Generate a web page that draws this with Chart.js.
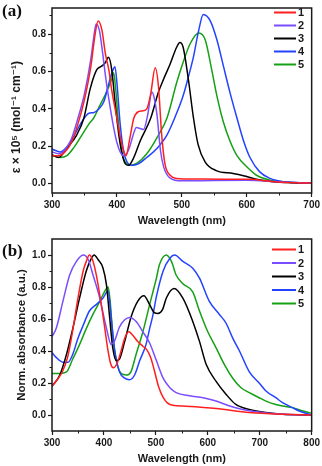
<!DOCTYPE html>
<html><head><meta charset="utf-8">
<script src="https://cdn.jsdelivr.net/npm/chart.js@4"></script>
<style>
html,body{margin:0;padding:0;background:#fff;width:322px;height:466px;overflow:hidden}
#wrapA{position:absolute;left:0;top:0;width:322px;height:230px}
#wrapB{position:absolute;left:0;top:230px;width:322px;height:236px}
.plabel{position:absolute;font:bold 17px "Liberation Serif","DejaVu Serif",serif;line-height:17px;color:#111}
</style></head><body>
<div id="wrapA"><canvas id="cA" width="322" height="230"></canvas></div>
<div id="wrapB"><canvas id="cB" width="322" height="236"></canvas></div>
<div class="plabel" style="left:2px;top:2px">(a)</div>
<div class="plabel" style="left:2px;top:242px">(b)</div>
<script>
// ---------- data: panel (a) molar absorptivity (x 10^5) ----------
const seriesLabels = ['1','2','3','4','5'];
const seriesColors = ['#ff1f1f','#7a4dff','#000000','#2443ff','#16a016'];

const xTicksA = [300,400,500,600,700];
const yTicksA = [0,0.2,0.4,0.6,0.8];
const xMinorA = [350,450,550,650];
const yMinorA = [0.1,0.3,0.5,0.7,0.9];

const wlA1 = [300,310,320,330,340,350,360,366,371,377,382,388,392,400,405,410,414,420,426,433,440,446,452,459,464,469,474,482,492,520,560,605,630,656,680,700];
const epsA1 = [0.15,0.15,0.17,0.22,0.32,0.45,0.63,0.79,0.87,0.82,0.70,0.60,0.50,0.35,0.25,0.18,0.15,0.245,0.35,0.385,0.39,0.40,0.48,0.62,0.52,0.26,0.106,0.045,0.028,0.025,0.024,0.024,0.015,0.007,0.004,0.003];
const wlA2 = [300,310,320,330,340,350,360,365,368,373,378,383,390,395,400,405,410,415,420,425,430,436,441,447,454,458,462,467,472,482,500,550,600,650,700];
const epsA2 = [0.17,0.16,0.18,0.24,0.35,0.48,0.67,0.80,0.855,0.82,0.70,0.56,0.40,0.30,0.22,0.17,0.15,0.16,0.20,0.26,0.30,0.295,0.29,0.36,0.49,0.45,0.36,0.18,0.09,0.03,0.015,0.017,0.018,0.01,0.003];
const wlA3 = [300,310,323,338,349,359,369,377,382,387,392,397,403,408,413,418,426,436,452,464,472,482,492,497,502,510,518,525,536,553,579,595,615,641,670,700];
const epsA3 = [0.155,0.14,0.19,0.26,0.35,0.51,0.61,0.63,0.647,0.676,0.61,0.44,0.26,0.16,0.106,0.098,0.14,0.23,0.35,0.49,0.56,0.64,0.73,0.755,0.73,0.56,0.35,0.21,0.115,0.07,0.054,0.042,0.024,0.01,0.005,0.003];
const wlA4 = [300,313,328,344,357,364,372,380,387,393,397,400,405,410,415,423,433,446,462,477,490,502,510,518,526,533,544,554,564,574,585,595,605,620,636,656,680,700];
const epsA4 = [0.185,0.17,0.22,0.32,0.377,0.38,0.40,0.44,0.53,0.60,0.626,0.54,0.32,0.18,0.12,0.098,0.106,0.14,0.19,0.26,0.36,0.47,0.57,0.68,0.82,0.905,0.87,0.77,0.63,0.49,0.35,0.23,0.14,0.063,0.028,0.01,0.005,0.003];
const wlA5 = [300,313,323,333,346,357,364,374,384,392,395,398,403,408,413,420,431,446,464,477,492,502,513,526,536,546,554,564,574,585,600,615,636,656,680,700];
const epsA5 = [0.15,0.14,0.15,0.19,0.26,0.32,0.35,0.42,0.49,0.56,0.594,0.51,0.30,0.16,0.115,0.098,0.11,0.16,0.26,0.35,0.54,0.65,0.75,0.806,0.77,0.61,0.47,0.33,0.23,0.15,0.09,0.045,0.019,0.01,0.005,0.003];

// ---------- data: panel (b) normalized absorbance ----------
const xTicksB = [300,400,500,600,700,800];
const yTicksB = [0,0.2,0.4,0.6,0.8,1.0];
const xMinorB = [350,450,550,650,750];
const yMinorB = [0.1,0.3,0.5,0.7,0.9];

const wlB1 = [300,310,320,330,340,350,360,366,372,378,385,392,400,407,413,418,425,433,440,448,455,465,475,482,490,497,505,514,527,552,616,680,744,800];
const absB1 = [0.18,0.22,0.27,0.36,0.53,0.73,0.90,0.96,1.0,0.97,0.88,0.75,0.58,0.42,0.32,0.295,0.32,0.40,0.48,0.52,0.50,0.46,0.43,0.41,0.36,0.28,0.18,0.11,0.066,0.056,0.041,0.015,0.004,0.0];
const wlB2 = [300,308,321,334,347,360,370,379,392,405,414,420,430,440,449,462,475,488,501,514,527,539,565,591,616,642,667,693,744,800];
const absB2 = [0.49,0.54,0.71,0.875,0.96,1.0,0.97,0.875,0.73,0.54,0.44,0.46,0.55,0.595,0.61,0.585,0.52,0.45,0.34,0.23,0.17,0.14,0.12,0.108,0.087,0.056,0.035,0.02,0.004,0.0];
const wlB3 = [300,315,328,340,353,366,376,381,389,398,405,411,417,424,430,440,452,465,477,488,497,504,513,520,535,552,571,584,597,616,635,654,680,712,744,800];
const absB3 = [0.18,0.25,0.38,0.54,0.73,0.90,0.98,1.0,0.97,0.92,0.81,0.61,0.42,0.34,0.35,0.46,0.61,0.71,0.745,0.69,0.64,0.635,0.66,0.73,0.79,0.73,0.585,0.46,0.315,0.21,0.13,0.066,0.035,0.015,0.004,0.0];
const wlB4 = [300,308,321,331,340,350,360,372,385,398,408,414,421,430,440,449,459,469,481,488,494,501,514,527,536,552,571,584,603,622,635,648,661,680,699,712,731,744,763,776,800];
const absB4 = [0.39,0.36,0.33,0.33,0.38,0.48,0.56,0.65,0.69,0.73,0.775,0.61,0.40,0.27,0.23,0.22,0.25,0.34,0.44,0.54,0.62,0.74,0.90,0.98,1.0,0.96,0.917,0.855,0.71,0.63,0.575,0.48,0.40,0.27,0.20,0.15,0.108,0.077,0.046,0.025,0.0];
const wlB5 = [300,315,328,340,353,366,379,392,401,408,412,417,424,433,443,452,462,475,488,501,507,520,530,539,552,571,584,600,616,632,648,664,680,699,712,731,744,763,783,795,800];
const absB5 = [0.26,0.26,0.27,0.35,0.44,0.54,0.63,0.71,0.77,0.80,0.71,0.50,0.34,0.26,0.25,0.27,0.38,0.52,0.69,0.855,0.94,1.0,0.96,0.875,0.82,0.77,0.65,0.52,0.42,0.315,0.23,0.17,0.14,0.108,0.087,0.066,0.056,0.046,0.025,0.015,0.01];

const FONT = '"Liberation Sans", Arial, "DejaVu Sans", sans-serif';
const INK = '#1a1a1a';

function zip(xs, ys){ return xs.map((x,i)=>({x:x, y:ys[i]})); }
function makeDatasets(wls, vals){
  return wls.map((wl,i)=>({
    label: seriesLabels[i],
    data: zip(wl, vals[i]),
    borderColor: seriesColors[i],
    backgroundColor: seriesColors[i],
    borderWidth: 1.5,
    pointRadius: 0,
    fill: false,
    cubicInterpolationMode: 'monotone'
  }));
}

const framePlugin = {
  id: 'frame',
  afterDraw(chart, args, o){
    const {ctx, chartArea:a} = chart;
    const xs = chart.scales.x, ys = chart.scales.y;
    ctx.save();
    ctx.strokeStyle = INK;
    ctx.lineWidth = 1.5;
    ctx.strokeRect(a.left, a.top, a.right - a.left, a.bottom - a.top);
    ctx.lineWidth = 1;
    o.xMinor.forEach(v=>{
      const px = Math.round(xs.getPixelForValue(v)) + 0.5;
      ctx.beginPath(); ctx.moveTo(px, a.bottom); ctx.lineTo(px, a.bottom + 2.5); ctx.stroke();
    });
    o.yMinor.forEach(v=>{
      const py = Math.round(ys.getPixelForValue(v)) + 0.5;
      ctx.beginPath(); ctx.moveTo(a.left, py); ctx.lineTo(a.left - 2.5, py); ctx.stroke();
    });
    // legend
    ctx.font = 'bold 11px ' + FONT;
    ctx.textBaseline = 'middle';
    ctx.textAlign = 'left';
    chart.data.datasets.forEach((ds,i)=>{
      const yy = o.legY + i*o.legGap;
      ctx.strokeStyle = ds.borderColor; ctx.lineWidth = 2;
      ctx.beginPath(); ctx.moveTo(o.legX1, yy); ctx.lineTo(o.legX2, yy); ctx.stroke();
      ctx.fillStyle = INK;
      ctx.fillText(ds.label, o.legX2 + 2, yy + 0.5);
    });
    ctx.restore();
  }
};

function makeChart(id, cfg){
  return new Chart(document.getElementById(id), {
    type: 'line',
    data: { datasets: makeDatasets(cfg.wls, cfg.vals) },
    plugins: [framePlugin],
    options: {
      responsive: false, animation: false, events: [],
      layout: { padding: { left: 0, right: 10, top: cfg.padTop, bottom: 0 } },
      plugins: {
        legend: { display: false }, tooltip: { enabled: false },
        frame: { xMinor: cfg.xMinor, yMinor: cfg.yMinor, legX1: cfg.legX1, legX2: 296, legY: cfg.legY, legGap: cfg.legGap }
      },
      scales: {
        x: {
          type: 'linear', min: cfg.xMin, max: cfg.xMax,
          afterBuildTicks: s => { s.ticks = cfg.xTicks.map(v=>({value:v})); },
          afterFit: s => { s.height = cfg.xHeight; },
          grid: { display: true, drawOnChartArea: false, drawTicks: true, tickLength: 4, tickColor: INK, tickWidth: 1.2 },
          border: { display: false },
          ticks: { font: { family: FONT, size: 10, weight: 'bold' }, color: INK, padding: 2, maxRotation: 0, autoSkip: false, callback: v => String(v) },
          title: { display: true, text: 'Wavelength (nm)', font: { family: FONT, size: 11, weight: 'bold' }, color: INK, padding: { top: 0, bottom: cfg.xTitlePad } }
        },
        y: {
          type: 'linear', min: cfg.yMin, max: cfg.yMax,
          afterBuildTicks: s => { s.ticks = cfg.yTicks.map(v=>({value:v})); },
          afterFit: s => { s.width = 52; },
          grid: { display: true, drawOnChartArea: false, drawTicks: true, tickLength: 4, tickColor: INK, tickWidth: 1.2 },
          border: { display: false },
          ticks: { font: { family: FONT, size: 10, weight: 'bold' }, color: INK, padding: 2, autoSkip: false, callback: v => Number(v).toFixed(1) },
          title: { display: true, text: cfg.yTitle, font: { family: FONT, size: cfg.yTitleSize, weight: 'bold' }, color: INK, padding: { top: cfg.yTitlePad, bottom: 0 } }
        }
      }
    }
  });
}

makeChart('cA', {
  wls: [wlA1,wlA2,wlA3,wlA4,wlA5], vals: [epsA1,epsA2,epsA3,epsA4,epsA5],
  xMin: 300, xMax: 700, yMin: -0.05, yMax: 0.94,
  xTicks: xTicksA, yTicks: yTicksA, xMinor: xMinorA, yMinor: yMinorA,
  padTop: 4, xHeight: 37, xTitlePad: 2,
  yTitle: 'ε × 10⁵ (mol⁻¹ cm⁻¹)' + '          ', yTitleSize: 12, yTitlePad: 9,
  legX1: 274, legY: 12.5, legGap: 13
});
makeChart('cB', {
  wls: [wlB1,wlB2,wlB3,wlB4,wlB5], vals: [absB1,absB2,absB3,absB4,absB5],
  xMin: 300, xMax: 800, yMin: -0.1, yMax: 1.1,
  xTicks: xTicksB, yTicks: yTicksB, xMinor: xMinorB, yMinor: yMinorB,
  padTop: 9, xHeight: 35, xTitlePad: 0,
  yTitle: 'Norm. absorbance (a.u.)', yTitleSize: 11.5, yTitlePad: 15,
  legX1: 272, legY: 19.5, legGap: 13.5
});
</script>
</body></html>
